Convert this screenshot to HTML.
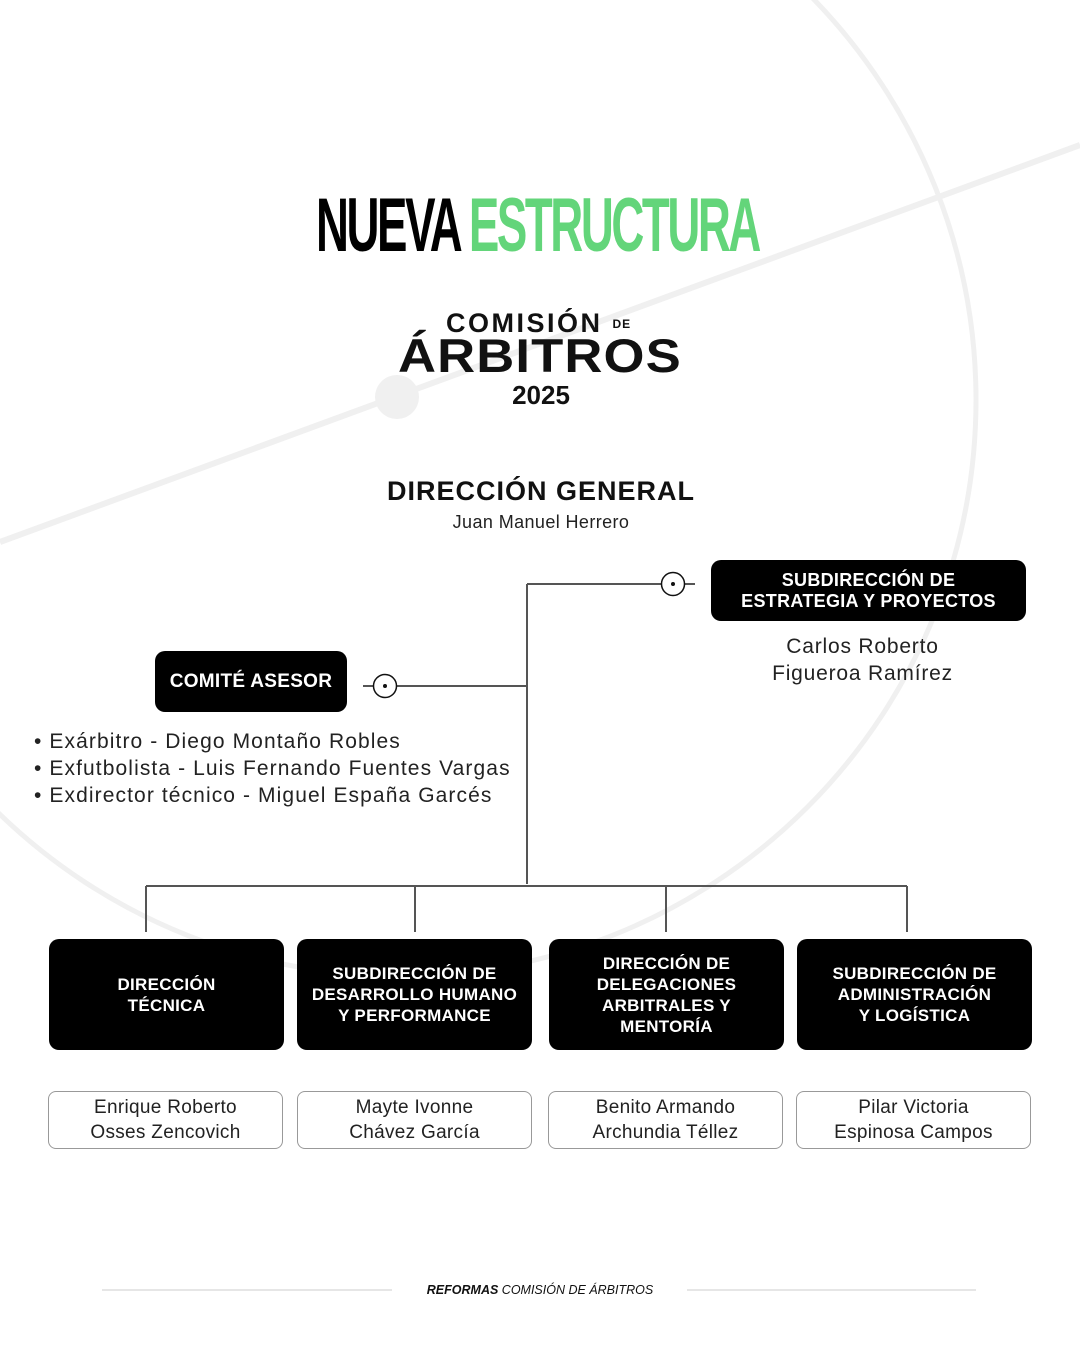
<!DOCTYPE html>
<html><head><meta charset="utf-8"><style>
*{margin:0;padding:0;box-sizing:border-box}
body{width:1080px;height:1350px;background:#fff;position:relative;overflow:hidden;font-family:"Liberation Sans",sans-serif;color:#111}
.a{position:absolute}
.box{position:absolute;background:#000;color:#fff;border-radius:10px;font-weight:900;text-align:center;display:flex;align-items:center;justify-content:center;letter-spacing:0.3px}
.nm{position:absolute;border:1px solid #999;border-radius:8px;text-align:center;font-size:19px;line-height:25px;display:flex;align-items:center;justify-content:center;color:#222;letter-spacing:0.3px}
</style></head><body>
<svg class="a" style="left:0;top:0" width="1080" height="1350">
<circle cx="400" cy="400" r="576" fill="none" stroke="#f0f0f0" stroke-width="5"/>
<line x1="0" y1="542" x2="1080" y2="145" stroke="#f0f0f0" stroke-width="6"/>
<circle cx="397" cy="397" r="22" fill="#f0f0f0"/>
<g stroke="#555" stroke-width="2" fill="none">
<line x1="527" y1="584" x2="527" y2="884"/>
<line x1="527" y1="584" x2="695" y2="584"/>
<line x1="363" y1="686" x2="527" y2="686"/>
<line x1="146" y1="886" x2="907" y2="886"/>
<line x1="146" y1="886" x2="146" y2="932"/>
<line x1="415" y1="886" x2="415" y2="932"/>
<line x1="666" y1="886" x2="666" y2="932"/>
<line x1="907" y1="886" x2="907" y2="932"/>
</g>
<circle cx="673" cy="584" r="11.5" fill="#fff" stroke="#111" stroke-width="1.5"/><circle cx="673" cy="584" r="2" fill="#111"/>
<circle cx="385" cy="686" r="11.5" fill="#fff" stroke="#111" stroke-width="1.5"/><circle cx="385" cy="686" r="2" fill="#111"/>
<line x1="102" y1="1290" x2="392" y2="1290" stroke="#ccc" stroke-width="1"/>
<line x1="687" y1="1290" x2="976" y2="1290" stroke="#ccc" stroke-width="1"/>
</svg>
<div class="a" style="left:316px;top:186px;font-size:76px;font-weight:900;line-height:80px;letter-spacing:-4px;transform:scaleX(0.6);transform-origin:left top;white-space:nowrap;width:740px"><span style="color:#000">NUEVA</span> <span style="color:#63d57a">ESTRUCTURA</span></div>
<div class="a" style="left:446px;top:308px;font-size:27px;font-weight:900;line-height:30px;letter-spacing:2.5px">COMISIÓN <span style="font-size:12px;vertical-align:4px;letter-spacing:1px">DE</span></div>
<div class="a" style="left:398px;top:332px;font-size:47px;font-weight:900;line-height:48px;letter-spacing:1px;transform:scaleX(1.12);transform-origin:left top">ÁRBITROS</div>
<div class="a" style="left:0;width:1082px;top:380px;text-align:center;font-size:26px;font-weight:900">2025</div>
<div class="a" style="left:0;width:1082px;top:476px;text-align:center;font-size:27px;font-weight:900;letter-spacing:1px">DIRECCIÓN GENERAL</div>
<div class="a" style="left:0;width:1082px;top:512px;text-align:center;font-size:18px;color:#222;letter-spacing:0.4px">Juan Manuel Herrero</div>
<div class="box" style="left:711px;top:560px;width:315px;height:61px;font-size:18px;line-height:21px">SUBDIRECCIÓN DE<br>ESTRATEGIA Y PROYECTOS</div>
<div class="a" style="left:711px;width:303px;top:633px;text-align:center;font-size:21px;line-height:27px;color:#222;letter-spacing:0.8px">Carlos Roberto<br>Figueroa Ramírez</div>
<div class="box" style="left:155px;top:651px;width:192px;height:61px;font-size:19px">COMITÉ ASESOR</div>
<div class="a" style="left:34px;top:728px;font-size:21px;line-height:27px;color:#222;letter-spacing:1.1px;white-space:nowrap">• Exárbitro - Diego Montaño Robles<br>• Exfutbolista - Luis Fernando Fuentes Vargas<br>• Exdirector técnico - Miguel España Garcés</div>
<div class="box" style="left:49px;top:939px;width:235px;height:111px;font-size:17px;line-height:21px">DIRECCIÓN<br>TÉCNICA</div>
<div class="box" style="left:297px;top:939px;width:235px;height:111px;font-size:17px;line-height:21px">SUBDIRECCIÓN DE<br>DESARROLLO HUMANO<br>Y PERFORMANCE</div>
<div class="box" style="left:549px;top:939px;width:235px;height:111px;font-size:17px;line-height:21px">DIRECCIÓN DE<br>DELEGACIONES<br>ARBITRALES Y<br>MENTORÍA</div>
<div class="box" style="left:797px;top:939px;width:235px;height:111px;font-size:17px;line-height:21px">SUBDIRECCIÓN DE<br>ADMINISTRACIÓN<br>Y LOGÍSTICA</div>
<div class="nm" style="left:48px;top:1091px;width:235px;height:58px">Enrique Roberto<br>Osses Zencovich</div>
<div class="nm" style="left:297px;top:1091px;width:235px;height:58px">Mayte Ivonne<br>Chávez García</div>
<div class="nm" style="left:548px;top:1091px;width:235px;height:58px">Benito Armando<br>Archundia Téllez</div>
<div class="nm" style="left:796px;top:1091px;width:235px;height:58px">Pilar Victoria<br>Espinosa Campos</div>
<div class="a" style="left:0;width:1080px;top:1283px;text-align:center;font-size:12.5px;font-style:italic;color:#111"><b>REFORMAS</b> COMISIÓN DE ÁRBITROS</div>
</body></html>
